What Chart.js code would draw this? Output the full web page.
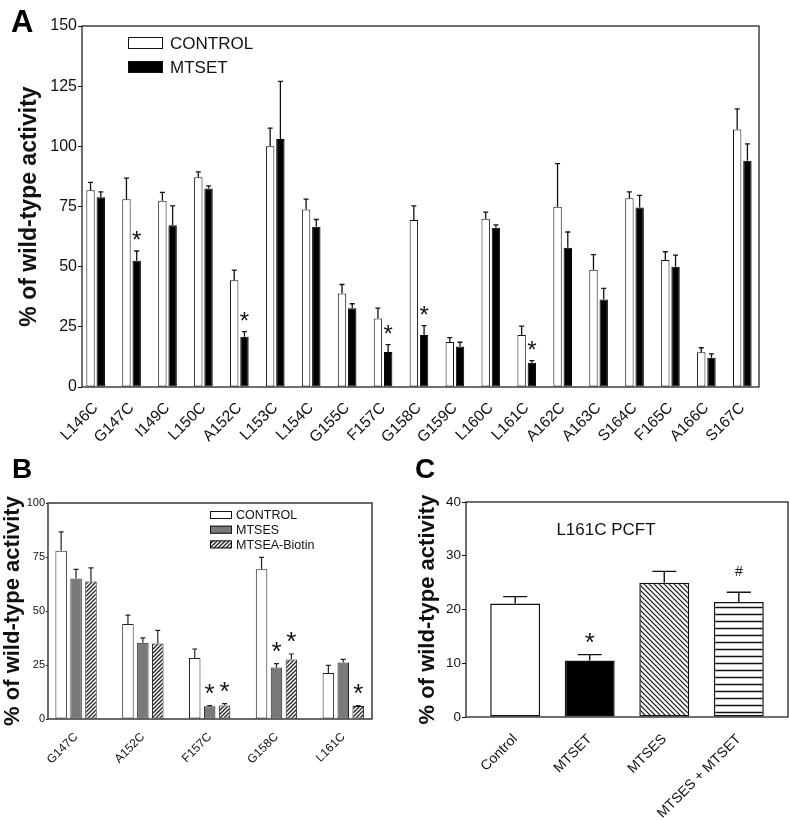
<!DOCTYPE html>
<html>
<head>
<meta charset="utf-8">
<script src="https://cdn.jsdelivr.net/npm/chart.js@4.4.0/dist/chart.umd.min.js"></script>
<style>
  body { margin: 0; background: #fff; }
  #page { position: relative; width: 790px; height: 820px; overflow: hidden; }
  canvas { position: absolute; }
  .tag { position: absolute; font: bold 28px Arial, "Liberation Sans", sans-serif; line-height: 1; color: #000; }
</style>
</head>
<body>
<div id="page">
  <canvas id="chartA" width="790" height="450" style="left:0;top:0"></canvas>
  <canvas id="chartB" width="390" height="370" style="left:0;top:450px"></canvas>
  <canvas id="chartC" width="400" height="370" style="left:390px;top:450px"></canvas>
  <div class="tag" style="left:11px;top:6px;font-size:31px">A</div>
  <div class="tag" style="left:12px;top:455px;font-size:28px">B</div>
  <div class="tag" style="left:415px;top:455px;font-size:28px">C</div>
</div>
<script>
/* panel A: cysteine mutants, control vs MTSET */
const mutantsA = ["L146C", "G147C", "I149C", "L150C", "A152C", "L153C", "L154C", "G155C", "F157C",
  "G158C", "G159C", "L160C", "L161C", "A162C", "A163C", "S164C", "F165C", "A166C", "S167C"];
const controlA = [81.8, 78, 77.4, 87.2, 44.4, 100, 73.8, 38.9, 28.5, 69.4, 18.7, 69.9, 21.6, 74.9, 48.7, 78.4, 52.8, 14.4, 107];
const controlAErr = [3.2, 8.8, 3.5, 2.2, 4.2, 7.6, 4.3, 3.7, 4.3, 5.9, 1.8, 2.8, 3.7, 17.9, 6.3, 2.7, 3.4, 1.9, 8.6];
const mtsetA = [78.8, 52.5, 67.2, 82.5, 20.9, 103, 66.6, 32.7, 14.5, 21.6, 16.8, 66.2, 10.1, 57.9, 36.4, 74.6, 50, 12.2, 94];
const mtsetAErr = [2.3, 4.0, 8.1, 1.1, 2.1, 24, 3.0, 1.9, 3.1, 3.9, 1.8, 1.2, 0.9, 6.5, 4.6, 5.0, 4.8, 1.6, 7];
const mtsetAMarks = ["", "*", "", "", "*", "", "", "", "*", "*", "", "", "*", "", "", "", "", "", ""];

/* panel B: control vs MTSES vs MTSEA-Biotin */
const mutantsB = ["G147C", "A152C", "F157C", "G158C", "L161C"];
const controlB = [77.9, 44, 28.2, 69.3, 21.3];
const controlBErr = [8.7, 4.1, 4.2, 5.5, 3.5];
const mtsesB = [65.1, 35.3, 5.9, 23.8, 26.1];
const mtsesBErr = [4.2, 2.3, 0.3, 1.8, 1.5];
const biotinB = [63.6, 35, 6.3, 27.6, 6.0];
const biotinBErr = [6.4, 6.0, 0.8, 2.5, 0.2];
const mtsesBMarks = ["", "", "*", "*", ""];
const biotinBMarks = ["", "", "*", "*", "*"];

/* panel C: L161C PCFT treatments */
const treatmentsC = ["Control", "MTSET", "MTSES", "MTSES + MTSET"];
const valuesC = [21.1, 10.5, 25.0, 21.4];
const errorsC = [1.3, 1.1, 2.1, 1.8];
const marksC = ["", "*", "", "#"];

const FONT = "Arial, 'Liberation Sans', sans-serif";
Chart.defaults.font.family = FONT;
Chart.defaults.color = "#111";

function hatch(kind, step, lw, color) {
  const c = document.createElement("canvas");
  c.width = step; c.height = step;
  const g = c.getContext("2d");
  g.fillStyle = "#fff";
  g.fillRect(0, 0, step, step);
  g.strokeStyle = color;
  g.lineWidth = lw;
  g.beginPath();
  if (kind === "/") {
    g.moveTo(0, step); g.lineTo(step, 0);
    g.moveTo(-1, 1); g.lineTo(1, -1);
    g.moveTo(step - 1, step + 1); g.lineTo(step + 1, step - 1);
  } else if (kind === "\\") {
    g.moveTo(0, 0); g.lineTo(step, step);
    g.moveTo(-1, step - 1); g.lineTo(1, step + 1);
    g.moveTo(step - 1, -1); g.lineTo(step + 1, 1);
  } else {
    g.moveTo(0, step / 2); g.lineTo(step, step / 2);
  }
  g.stroke();
  return g.createPattern(c, "repeat");
}

/* place categories with custom lead/trail space (in category units) */
function spread(lead, trail) {
  return function (scale) {
    const n = scale.getLabels().length;
    scale._startValue = -lead;
    scale._valueRange = n - 1 + lead + trail;
  };
}

const frame = {
  id: "frame",
  afterDatasetsDraw(chart, args, o) {
    const { ctx, chartArea: a } = chart;
    ctx.save();
    ctx.strokeStyle = o.color;
    ctx.lineWidth = o.width;
    ctx.strokeRect(a.left, a.top, a.right - a.left, a.bottom - a.top);
    ctx.restore();
  }
};

const errorBars = {
  id: "errorBars",
  afterDatasetsDraw(chart, args, o) {
    const { ctx } = chart;
    const yScale = chart.scales.y;
    ctx.save();
    chart.data.datasets.forEach((ds, i) => {
      chart.getDatasetMeta(i).data.forEach((bar, j) => {
        const top = yScale.getPixelForValue(ds.data[j] + ds.errors[j]);
        ctx.strokeStyle = o.color;
        ctx.lineWidth = o.width;
        ctx.beginPath();
        ctx.moveTo(bar.x, bar.y);
        ctx.lineTo(bar.x, top);
        ctx.moveTo(bar.x - o.cap / 2, top);
        ctx.lineTo(bar.x + o.cap / 2, top);
        ctx.stroke();
        const m = ds.marks && ds.marks[j];
        if (m) {
          const st = o.marks[m];
          ctx.fillStyle = "#111";
          ctx.font = st.font;
          ctx.textAlign = "center";
          ctx.textBaseline = "alphabetic";
          ctx.fillText(m, bar.x, top - st.lift);
        }
      });
    });
    ctx.restore();
  }
};

const boxLegend = {
  id: "boxLegend",
  afterDraw(chart, args, o) {
    const { ctx, chartArea: a } = chart;
    ctx.save();
    chart.data.datasets.forEach((ds, i) => {
      const x = a.left + o.x;
      const y = a.top + o.y + i * o.row;
      ctx.fillStyle = ds.backgroundColor;
      ctx.fillRect(x, y, o.boxW, o.boxH);
      ctx.strokeStyle = "#111";
      ctx.lineWidth = 1;
      ctx.strokeRect(x + 0.5, y + 0.5, o.boxW - 1, o.boxH - 1);
      ctx.fillStyle = "#111";
      ctx.font = o.font;
      ctx.textAlign = "left";
      ctx.textBaseline = "middle";
      ctx.fillText(ds.label, x + o.boxW + o.gap, y + o.boxH / 2 + 1);
    });
    ctx.restore();
  }
};

const note = {
  id: "note",
  afterDraw(chart, args, o) {
    const { ctx, chartArea: a } = chart;
    ctx.save();
    ctx.fillStyle = "#111";
    ctx.font = o.font;
    ctx.textAlign = "center";
    ctx.textBaseline = "middle";
    ctx.fillText(o.text, a.left + o.x, a.top + o.y);
    ctx.restore();
  }
};

function yAxis(max, step, width, tickSize, tickLen, titlePad, titleSize) {
  return {
    min: 0,
    max: max,
    afterFit: (s) => { s.width = width; },
    grid: { drawOnChartArea: false, drawTicks: true, tickLength: tickLen, tickColor: "#111", tickWidth: 1 },
    border: { display: false },
    ticks: { stepSize: step, padding: 1, font: { size: tickSize }, color: "#111" },
    title: {
      display: true,
      text: "% of wild-type activity",
      color: "#111",
      font: { size: titleSize, weight: "bold", lineHeight: 1 },
      padding: { top: titlePad, bottom: 0 }
    }
  };
}

function xAxis(height, lead, trail, size, pad) {
  return {
    offset: false,
    afterFit: (s) => { s.height = height; },
    afterBuildTicks: spread(lead, trail),
    grid: { display: false, offset: false },
    border: { display: false },
    ticks: { autoSkip: false, minRotation: 45, maxRotation: 45, padding: pad, font: { size: size }, color: "#111" }
  };
}

/* ---------- A ---------- */
new Chart(document.getElementById("chartA"), {
  type: "bar",
  data: {
    labels: mutantsA,
    datasets: [
      { label: "CONTROL", data: controlA, errors: controlAErr, backgroundColor: "#fff", borderColor: "#111",
        borderWidth: 1, borderSkipped: false },
      { label: "MTSET", data: mtsetA, errors: mtsetAErr, marks: mtsetAMarks, backgroundColor: "#000",
        borderColor: "#000", borderWidth: 1, borderSkipped: false }
    ]
  },
  options: {
    responsive: false,
    animation: false,
    devicePixelRatio: 1,
    layout: { padding: { left: 0, top: 26, right: 31, bottom: 0 } },
    datasets: { bar: { categoryPercentage: 0.57, barPercentage: 0.82 } },
    scales: {
      x: xAxis(63, 0.38, 0.465, 15.5, 4),
      y: yAxis(150, 25, 82, 16, 4, 18, 23)
    },
    plugins: {
      legend: { display: false },
      tooltip: { enabled: false },
      frame: { color: "#111", width: 1.2 },
      errorBars: { color: "#111", width: 1.3, cap: 5, marks: { "*": { font: "24px " + FONT, lift: 3 } } },
      boxLegend: { x: 46, y: 11, row: 24, boxW: 35, boxH: 12, gap: 7, font: "17px " + FONT }
    }
  },
  plugins: [frame, errorBars, boxLegend]
});

/* ---------- B ---------- */
new Chart(document.getElementById("chartB"), {
  type: "bar",
  data: {
    labels: mutantsB,
    datasets: [
      { label: "CONTROL", data: controlB, errors: controlBErr, backgroundColor: "#fff", borderColor: "#222",
        borderWidth: 1, borderSkipped: false },
      { label: "MTSES", data: mtsesB, errors: mtsesBErr, marks: mtsesBMarks, backgroundColor: "#7a7a7a",
        borderColor: "#222", borderWidth: 1, borderSkipped: false },
      { label: "MTSEA-Biotin", data: biotinB, errors: biotinBErr, marks: biotinBMarks,
        backgroundColor: hatch("/", 4, 1.3, "#222"), borderColor: "#222", borderWidth: 1, borderSkipped: false }
    ]
  },
  options: {
    responsive: false,
    animation: false,
    devicePixelRatio: 1,
    layout: { padding: { left: 0, top: 53, right: 18, bottom: 0 } },
    datasets: { bar: { categoryPercentage: 0.67, barPercentage: 0.77 } },
    scales: {
      x: xAxis(101, 0.42, 0.43, 12, 3),
      y: yAxis(100, 25, 48, 11, 2, 1.5, 22)
    },
    plugins: {
      legend: { display: false },
      tooltip: { enabled: false },
      frame: { color: "#444", width: 1.6 },
      errorBars: { color: "#222", width: 1.2, cap: 5, marks: { "*": { font: "26px " + FONT, lift: 4 } } },
      boxLegend: { x: 162, y: 8, row: 14.7, boxW: 22, boxH: 8, gap: 4, font: "12.5px " + FONT }
    }
  },
  plugins: [frame, errorBars, boxLegend]
});

/* ---------- C ---------- */
new Chart(document.getElementById("chartC"), {
  type: "bar",
  data: {
    labels: treatmentsC,
    datasets: [
      { label: "L161C PCFT", data: valuesC, errors: errorsC, marks: marksC,
        backgroundColor: ["#fff", "#000", hatch("\\", 5, 1.2, "#111"), hatch("-", 7, 1.5, "#111")],
        borderColor: "#111", borderWidth: 1.5, borderSkipped: false }
    ]
  },
  options: {
    responsive: false,
    animation: false,
    devicePixelRatio: 1,
    layout: { padding: { left: 0, top: 52, right: 2, bottom: 0 } },
    datasets: { bar: { categoryPercentage: 0.67, barPercentage: 1 } },
    scales: {
      x: xAxis(103, 0.66, 0.66, 14, 6),
      y: yAxis(40, 10, 76, 13.5, 4, 27, 22)
    },
    plugins: {
      legend: { display: false },
      tooltip: { enabled: false },
      frame: { color: "#111", width: 1.2 },
      errorBars: { color: "#111", width: 1.4, cap: 24, marks: {
        "*": { font: "26px " + FONT, lift: 4 },
        "#": { font: "14px " + FONT, lift: 16 } } },
      note: { text: "L161C PCFT", x: 140, y: 28, font: "17px " + FONT }
    }
  },
  plugins: [frame, errorBars, note]
});
</script>
</body>
</html>
